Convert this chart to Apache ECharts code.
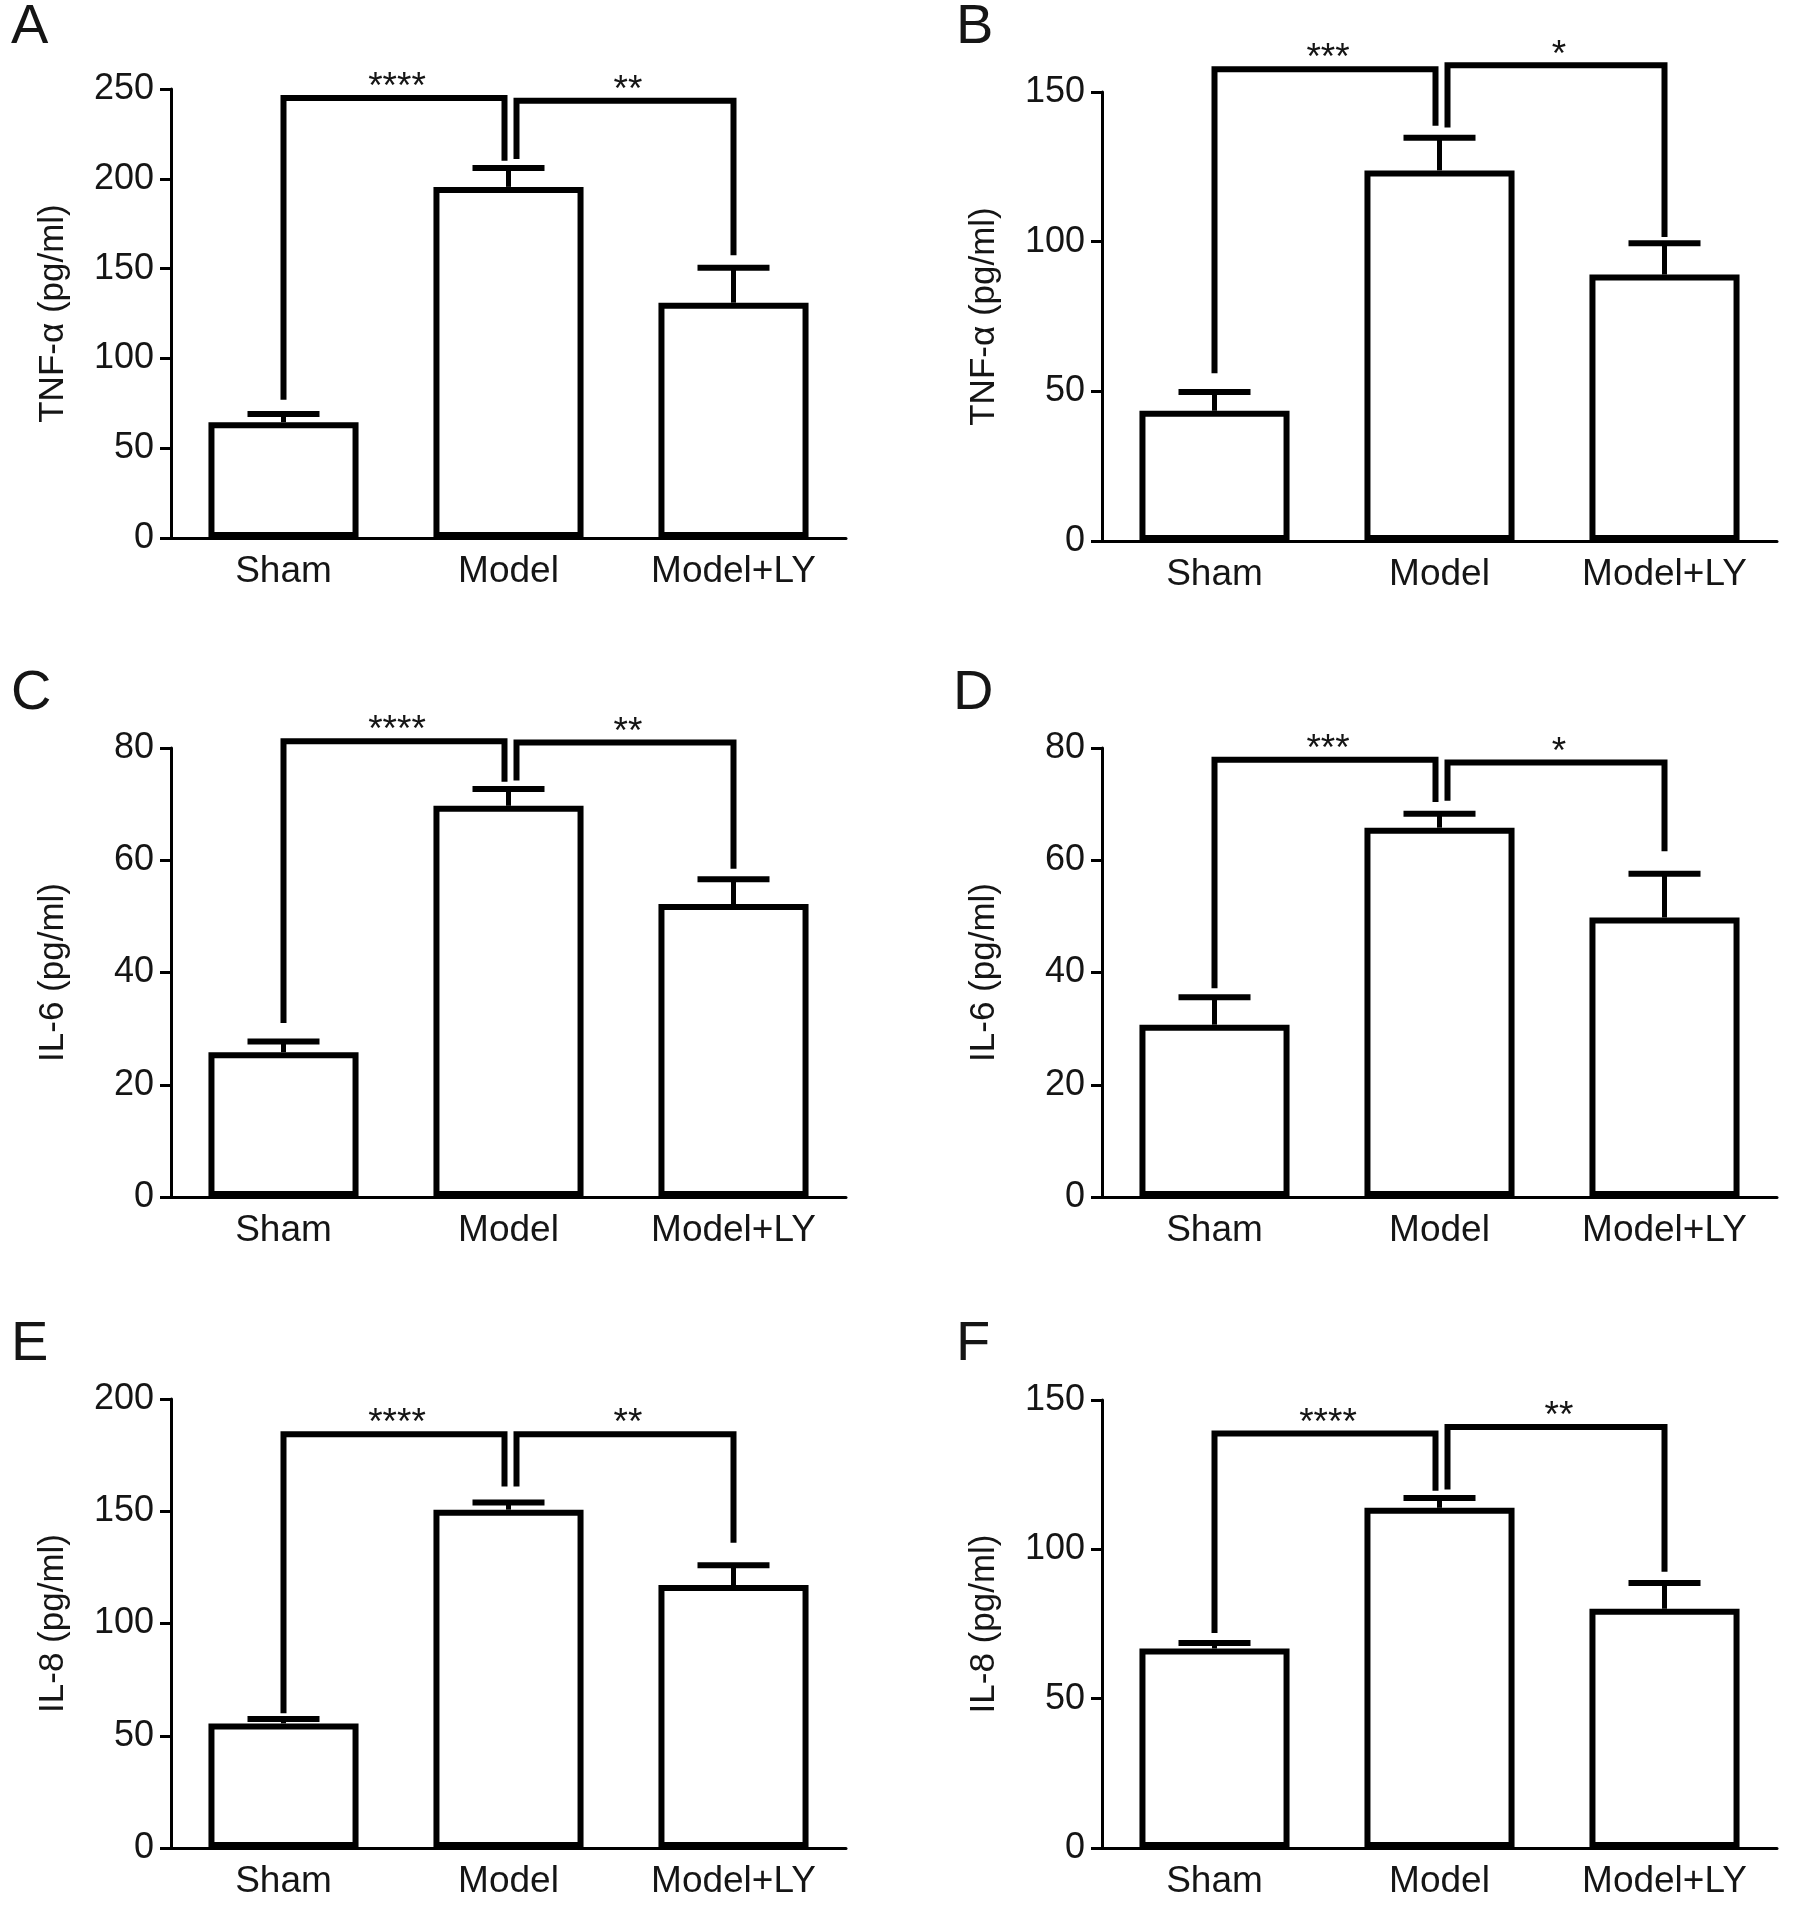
<!DOCTYPE html>
<html>
<head>
<meta charset="utf-8">
<script src="https://cdn.jsdelivr.net/npm/echarts@6/dist/echarts.min.js"></script>
<style>
html,body{margin:0;padding:0;background:#fff;}
#chart{width:1795px;height:1912px;}
</style>
</head>
<body>
<div id="chart"></div>
<script>
// ---------- data ----------
const categories = ['Sham', 'Model', 'Model+LY'];
const panelLetters = ['A', 'B', 'C', 'D', 'E', 'F'];
const yAxisNames = ['TNF-α (pg/ml)', 'TNF-α (pg/ml)', 'IL-6 (pg/ml)', 'IL-6 (pg/ml)', 'IL-8 (pg/ml)', 'IL-8 (pg/ml)'];
const yMax = [250, 150, 80, 80, 200, 150];
const yInterval = [50, 50, 20, 20, 50, 50];

const meanA = [64.5, 195.5, 131.0];  const errA = [4.5, 10.5, 19.5];
const meanB = [43.5, 123.8, 89.0];   const errB = [6.3, 10.9, 10.5];
const meanC = [25.8, 69.7, 52.2];    const errC = [1.9, 3.0, 4.4];
const meanD = [30.7, 65.8, 49.8];    const errD = [4.9, 2.5, 7.8];
const meanE = [55.5, 150.7, 117.1];  const errE = [2.0, 3.2, 8.8];
const meanF = [66.8, 113.9, 80.1];   const errF = [1.8, 3.3, 8.6];

// [fromCategory, toCategory, bracketTop, fromLegEnd, toLegEnd, label]
const bracketsA = [[0, 1, 245.0, 77.0, 210.0, '****'], [1, 2, 243.5, 211.0, 157.5, '**']];
const bracketsB = [[0, 1, 157.6, 56.0, 138.7, '***'],  [1, 2, 158.9, 138.1, 101.6, '*']];
const bracketsC = [[0, 1, 81.2, 31.0, 74.0, '****'],   [1, 2, 81.0, 74.2, 58.5, '**']];
const bracketsD = [[0, 1, 77.9, 37.2, 70.4, '***'],    [1, 2, 77.4, 70.6, 61.6, '*']];
const bracketsE = [[0, 1, 184.3, 60.0, 161.0, '****'], [1, 2, 184.3, 161.0, 136.0, '**']];
const bracketsF = [[0, 1, 138.8, 72.0, 119.6, '****'], [1, 2, 141.0, 120.0, 92.5, '**']];

const means = [meanA, meanB, meanC, meanD, meanE, meanF];
const errs = [errA, errB, errC, errD, errE, errF];
const brackets = [bracketsA, bracketsB, bracketsC, bracketsD, bracketsE, bracketsF];

// ---------- layout / style ----------
const FONT = '"Liberation Sans", Arial, Helvetica, sans-serif';
const NARROW = '"Liberation Sans Narrow", "Arial Narrow", "Liberation Sans", Arial, sans-serif';
const TXT = '#151515';
const GRID_W = 675;
const layout = [
  {left: 171, top: 89, height: 449},
  {left: 1102, top: 92, height: 449},
  {left: 171, top: 748, height: 449},
  {left: 1102, top: 748, height: 449},
  {left: 171, top: 1399, height: 449},
  {left: 1102, top: 1400, height: 448}
];
const letterPos = [[11, 0], [956, 0], [11, 666], [953, 666], [11, 1317], [956, 1317]];

const grids = [], xAxes = [], yAxes = [], series = [], graphics = [];

layout.forEach((g, i) => {
  grids.push({left: g.left, top: g.top, width: GRID_W, height: g.height, containLabel: false});
  xAxes.push({
    type: 'category', gridIndex: i, data: categories,
    axisLine: {lineStyle: {color: '#000', width: 3}},
    axisTick: {alignWithLabel: true, length: 13, lineStyle: {color: '#000', width: 3}},
    axisLabel: {fontSize: 37, fontFamily: FONT, color: TXT, margin: 15}
  });
  yAxes.push({
    type: 'value', gridIndex: i, min: 0, max: yMax[i], interval: yInterval[i],
    splitLine: {show: false},
    axisLine: {show: true, lineStyle: {color: '#000', width: 3}},
    axisTick: {show: true, length: 11, lineStyle: {color: '#000', width: 3}},
    axisLabel: {fontSize: 36, fontFamily: NARROW, color: TXT, margin: 17},
    name: yAxisNames[i], nameLocation: 'middle', nameGap: 100, nameRotate: 90,
    nameTextStyle: {fontSize: 35, fontFamily: FONT, color: TXT}
  });

  series.push({
    type: 'bar', xAxisIndex: i, yAxisIndex: i, data: means[i], barWidth: '66.7%',
    itemStyle: {color: '#fff', borderColor: '#000', borderWidth: 6},
    silent: true, z: 2
  });

  series.push({
    type: 'custom', xAxisIndex: i, yAxisIndex: i, z: 3, silent: true,
    data: means[i].map((m, j) => [j, m, m + errs[i][j]]),
    renderItem: function (params, api) {
      const x = api.value(0);
      const lo = api.coord([x, api.value(1)]);
      const hi = api.coord([x, api.value(2)]);
      const half = 36;
      return {
        type: 'group',
        children: [
          {type: 'line', shape: {x1: lo[0], y1: lo[1], x2: hi[0], y2: hi[1]}, style: {stroke: '#000', lineWidth: 5}},
          {type: 'line', shape: {x1: hi[0] - half, y1: hi[1], x2: hi[0] + half, y2: hi[1]}, style: {stroke: '#000', lineWidth: 6}}
        ]
      };
    }
  });

  const br = brackets[i];
  series.push({
    type: 'custom', xAxisIndex: i, yAxisIndex: i, z: 4, silent: true,
    data: br.map(b => [b[0], b[1], b[2], b[3], b[4]]),
    renderItem: function (params, api) {
      const b = br[params.dataIndex];
      const a = b[0], c = b[1];
      const offA = a === 1 ? 8 : 0;
      const offC = c === 1 ? -4 : 0;
      const pa = api.coord([a, b[3]]);
      const pc = api.coord([c, b[4]]);
      const yTop = api.coord([a, b[2]])[1];
      const xa = pa[0] + offA, xc = pc[0] + offC;
      return {
        type: 'group',
        children: [
          {type: 'polyline', shape: {points: [[xa, pa[1]], [xa, yTop], [xc, yTop], [xc, pc[1]]]},
           style: {stroke: '#000', lineWidth: 6, fill: null, lineJoin: 'miter'}},
          {type: 'text', style: {text: b[5], x: (xa + xc) / 2 + 3, y: yTop - 10, align: 'center', verticalAlign: 'middle',
           fontSize: 37, fontFamily: FONT, fill: TXT}}
        ]
      };
    }
  });

  graphics.push({
    type: 'text', left: letterPos[i][0], top: letterPos[i][1],
    style: {text: panelLetters[i], fontSize: 56, fontFamily: FONT, fill: TXT}
  });
});

const chart = echarts.init(document.getElementById('chart'), null, {renderer: 'canvas'});
chart.setOption({
  backgroundColor: '#fff',
  animation: false,
  grid: grids, xAxis: xAxes, yAxis: yAxes, series: series, graphic: graphics
});
</script>
</body>
</html>
